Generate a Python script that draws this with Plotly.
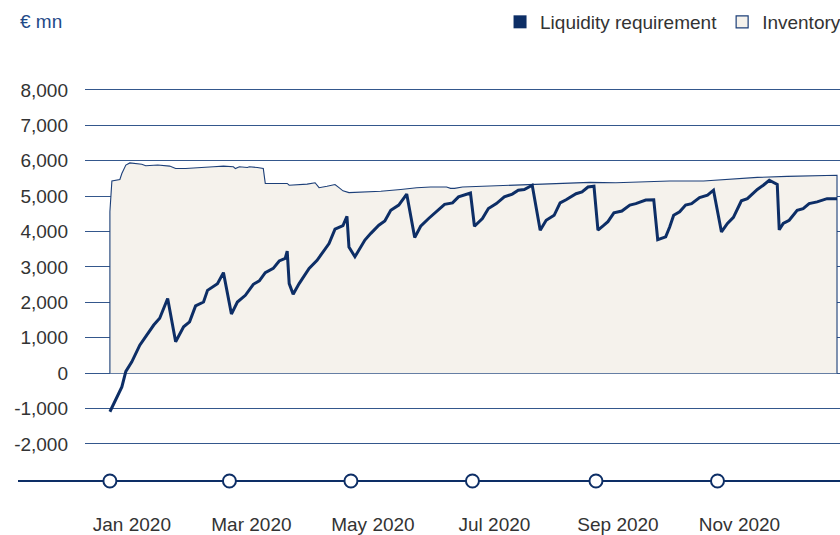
import plotly.graph_objects as go

# ---------------- data ----------------
liq_dates = [
    "2020-01-01", "2020-01-04", "2020-01-07", "2020-01-09", "2020-01-12", "2020-01-16",
    "2020-01-19", "2020-01-23", "2020-01-26", "2020-01-30", "2020-02-03", "2020-02-07",
    "2020-02-10", "2020-02-13", "2020-02-17", "2020-02-19", "2020-02-24", "2020-02-27",
    "2020-03-02", "2020-03-05", "2020-03-09", "2020-03-13", "2020-03-16", "2020-03-19",
    "2020-03-23", "2020-03-26", "2020-03-29", "2020-03-30", "2020-03-31", "2020-04-02",
    "2020-04-05", "2020-04-10", "2020-04-14", "2020-04-17", "2020-04-20", "2020-04-23",
    "2020-04-27", "2020-04-29", "2020-04-30", "2020-05-03", "2020-05-08", "2020-05-11",
    "2020-05-15", "2020-05-18", "2020-05-21", "2020-05-25", "2020-05-29", "2020-06-02",
    "2020-06-05", "2020-06-09", "2020-06-13", "2020-06-17", "2020-06-21", "2020-06-24",
    "2020-06-30", "2020-07-02", "2020-07-06", "2020-07-09", "2020-07-13", "2020-07-17",
    "2020-07-21", "2020-07-24", "2020-07-27", "2020-07-31", "2020-08-04", "2020-08-07",
    "2020-08-11", "2020-08-14", "2020-08-17", "2020-08-22", "2020-08-25", "2020-08-28",
    "2020-08-31", "2020-09-02", "2020-09-05", "2020-09-07", "2020-09-10", "2020-09-14",
    "2020-09-18", "2020-09-21", "2020-09-26", "2020-09-30", "2020-10-02", "2020-10-06",
    "2020-10-08", "2020-10-10", "2020-10-13", "2020-10-16", "2020-10-19", "2020-10-23",
    "2020-10-27", "2020-10-30", "2020-11-03", "2020-11-06", "2020-11-09", "2020-11-13",
    "2020-11-16", "2020-11-21", "2020-11-24", "2020-11-27", "2020-12-01", "2020-12-02",
    "2020-12-04", "2020-12-07", "2020-12-11", "2020-12-14", "2020-12-17", "2020-12-21",
    "2020-12-26", "2020-12-31",
]
liq_values = [
    -1090, -740, -390, 50, 320, 790,
    1030, 1360, 1550, 2110, 890, 1310,
    1450, 1900, 2010, 2340, 2530, 2840,
    1670, 2010, 2200, 2510, 2610, 2840,
    2960, 3170, 3240, 3450, 2530, 2230,
    2530, 2960, 3190, 3430, 3660, 4070,
    4170, 4430, 3560, 3290, 3760, 3950,
    4180, 4300, 4600, 4750, 5060, 3830,
    4150, 4370, 4580, 4770, 4810, 4980,
    5090, 4150, 4370, 4650, 4790, 4980,
    5060, 5170, 5190, 5310, 4040, 4320,
    4460, 4810, 4900, 5070, 5120, 5260,
    5280, 4040, 4180, 4280, 4530, 4580,
    4750, 4790, 4890, 4900, 3770, 3850,
    4130, 4460, 4560, 4750, 4790, 4960,
    5030, 5170, 3990, 4230, 4400, 4870,
    4930, 5190, 5310, 5450, 5330, 4050,
    4230, 4320, 4600, 4650, 4790, 4840,
    4930, 4930,
]

inv_dates = [
    "2020-01-01", "2020-01-01", "2020-01-02", "2020-01-06", "2020-01-07", "2020-01-09",
    "2020-01-11", "2020-01-14", "2020-01-17", "2020-01-19", "2020-01-22", "2020-01-25",
    "2020-01-31", "2020-02-03", "2020-02-08", "2020-02-14", "2020-02-22", "2020-02-27",
    "2020-03-03", "2020-03-04", "2020-03-06", "2020-03-10", "2020-03-11", "2020-03-15",
    "2020-03-18", "2020-03-19", "2020-03-30", "2020-03-31", "2020-04-09", "2020-04-13",
    "2020-04-15", "2020-04-19", "2020-04-23", "2020-04-25", "2020-04-27", "2020-04-30",
    "2020-05-16", "2020-05-26", "2020-06-03", "2020-06-10", "2020-06-18", "2020-06-20",
    "2020-06-22", "2020-06-26", "2020-07-13", "2020-07-30", "2020-08-16", "2020-08-29",
    "2020-09-11", "2020-10-08", "2020-10-25", "2020-11-21", "2020-12-06", "2020-12-31",
    "2020-12-31",
]
inv_values = [
    0, 4560, 5430, 5470, 5640, 5880,
    5940, 5920, 5900, 5860, 5860, 5880,
    5850, 5780, 5780, 5810, 5830, 5850,
    5830, 5780, 5830, 5810, 5830, 5810,
    5780, 5360, 5360, 5310, 5340, 5380,
    5240, 5280, 5330, 5240, 5150, 5100,
    5140, 5190, 5240, 5260, 5260, 5220,
    5220, 5260, 5290, 5330, 5360, 5390,
    5380, 5430, 5430, 5530, 5560, 5590,
    0,
]

x_tick_dates = ["2020-01-01", "2020-03-01", "2020-05-01", "2020-07-01", "2020-09-01", "2020-11-01"]
x_tick_labels = ["Jan 2020", "Mar 2020", "May 2020", "Jul 2020", "Sep 2020", "Nov 2020"]

y_ticks = [-2000, -1000, 0, 1000, 2000, 3000, 4000, 5000, 6000, 7000, 8000]
y_tick_labels = ["-2,000", "-1,000", "0", "1,000", "2,000", "3,000", "4,000",
                 "5,000", "6,000", "7,000", "8,000"]

unit_label = "€ mn"
series_names = ["Liquidity requirement", "Inventory"]

# ---------------- style ----------------
NAVY = "#0d2e66"
GRID = "#34578c"
FILL = "#f5f2ec"
TXT = "#333333"
FONT = "Liberation Sans, Arial, sans-serif"
Y_MIN, Y_MAX = -3046, 8056

fig = go.Figure()

fig.add_trace(go.Scatter(
    x=inv_dates, y=inv_values, mode="lines", fill="tozeroy",
    fillcolor=FILL, line=dict(color="#1c3f78", width=1.1),
    showlegend=False, hoverinfo="skip",
))
fig.add_trace(go.Scatter(
    x=liq_dates, y=liq_values, mode="lines",
    line=dict(color=NAVY, width=3),
    showlegend=False,
))
# timeline circles at the tick dates
fig.add_trace(go.Scatter(
    x=x_tick_dates, y=[Y_MIN] * len(x_tick_dates), mode="markers",
    marker=dict(size=13, color="white", line=dict(color=NAVY, width=2)),
    cliponaxis=False, showlegend=False, hoverinfo="skip",
))
# legend entries
fig.add_trace(go.Scatter(
    x=[None], y=[None], mode="markers", name=series_names[0],
    marker=dict(symbol="square", size=13, color=NAVY, line=dict(width=0)),
))
fig.add_trace(go.Scatter(
    x=[None], y=[None], mode="markers", name=series_names[1],
    marker=dict(symbol="square", size=12, color=FILL, line=dict(color="#1c3f78", width=1.2)),
))

fig.update_layout(
    width=840, height=535,
    margin=dict(l=85, r=0, t=88, b=54, autoexpand=False),
    paper_bgcolor="white", plot_bgcolor="rgba(0,0,0,0)",
    font=dict(family=FONT, size=19, color=TXT),
    showlegend=True,
    legend=dict(
        orientation="h", x=1.008, xanchor="right", y=1.168, yanchor="middle",
        font=dict(family=FONT, size=19, color=TXT),
        bgcolor="rgba(0,0,0,0)", itemclick=False,
    ),
    xaxis=dict(
        type="date",
        range=["2019-12-19 12:00", "2021-01-01 12:00"],
        tickvals=x_tick_dates, ticktext=x_tick_labels,
        showgrid=False, zeroline=False, showline=False,
        ticks="", ticklabelstandoff=30, ticklabelshift=22,
        tickfont=dict(family=FONT, size=19, color=TXT),
    ),
    yaxis=dict(
        range=[Y_MIN, Y_MAX],
        tickvals=y_ticks, ticktext=y_tick_labels,
        showgrid=True, gridcolor=GRID, gridwidth=1.2,
        zeroline=False, showline=False, ticks="",
        ticklabelstandoff=16,
        tickfont=dict(family=FONT, size=19, color=TXT),
    ),
    shapes=[dict(
        type="line", xref="paper", yref="paper",
        x0=(18 - 85) / 755, x1=1.0, y0=0, y1=0,
        line=dict(color=NAVY, width=2), layer="below",
    )],
    annotations=[dict(
        text=unit_label, xref="paper", yref="paper",
        x=(18 - 85) / 755, y=1.168, xanchor="left", yanchor="middle",
        showarrow=False, font=dict(family=FONT, size=19, color="#1f4a88"),
    )],
)

fig.write_html(
    "out.html",
    config={"displayModeBar": False},
    post_script="document.body.style.margin='0';document.body.style.overflow='hidden';",
)
